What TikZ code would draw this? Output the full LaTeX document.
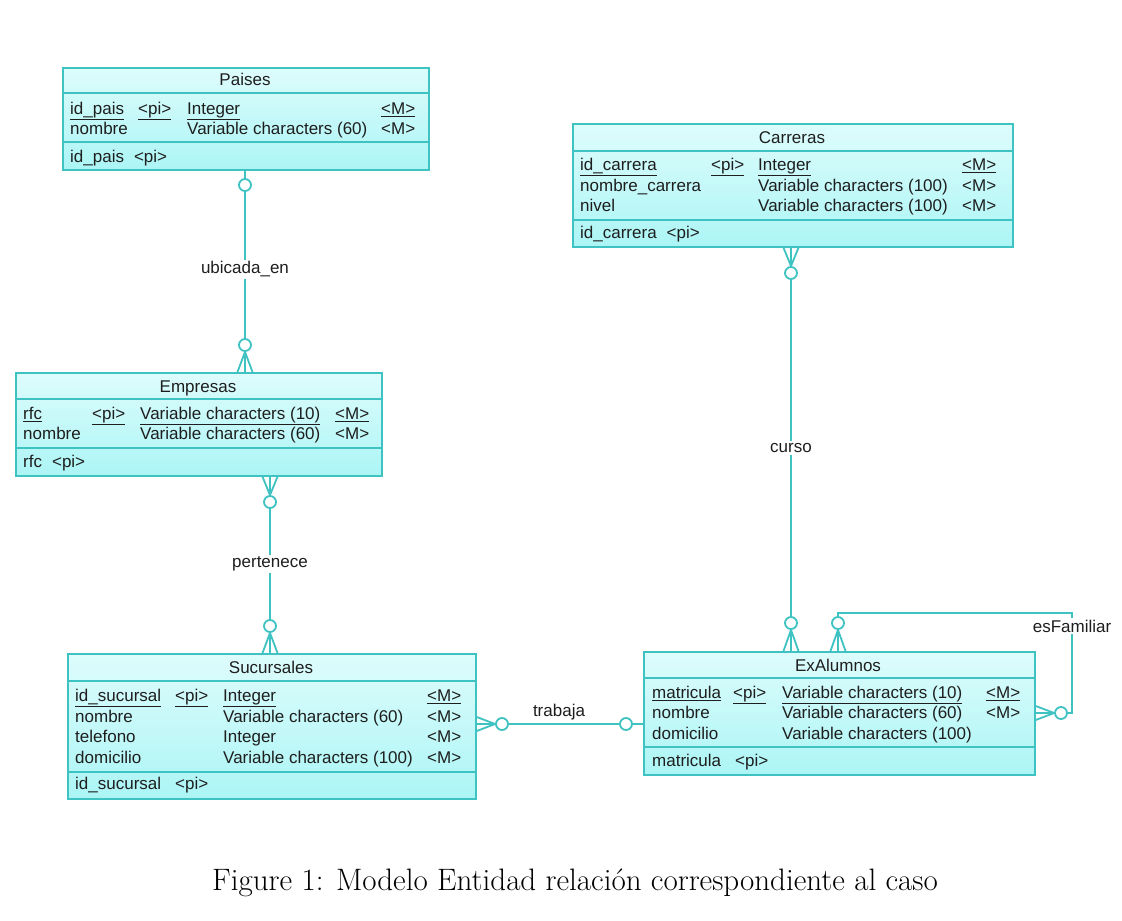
\documentclass[tikz,border=0pt]{standalone}
\usepackage{fontspec}
\usetikzlibrary{calc}
\newfontfamily\arialf{Liberation Sans}
\definecolor{ln}{RGB}{62,194,194}
\definecolor{tx}{RGB}{30,30,30}
\definecolor{ftop}{RGB}{222,252,252}
\definecolor{fbot}{RGB}{172,245,245}
\tikzset{
  x=1pt, y=-1pt,
  tbl/.style={draw=ln, line width=1.7pt, top color=ftop, bottom color=fbot, anchor=north west, inner sep=0pt},
  sepl/.style={draw=ln, line width=1.4pt},
  tt/.style={font=\arialf\fontsize{17}{20}\selectfont, text=tx, inner sep=0pt, anchor=west, text height=13.5pt, text depth=0.5pt},
  ttl/.style={tt, anchor=center},
  conn/.style={draw=ln, line width=1.8pt},
  ring/.style={circle, draw=ln, line width=1.8pt, fill=white, minimum size=12pt, inner sep=0pt},
  lbl/.style={font=\arialf\fontsize{17}{20}\selectfont, text=tx, fill=white, inner sep=2pt},
}
\newcommand\tbox[7]{%
  \node[tbl, minimum width=#4pt, minimum height=#5pt] (#1) at (#2,#3) {};
  \draw[sepl] ($(#1.north west)+(0,#6)$) -- ($(#1.north east)+(0,#6)$);
  \draw[sepl] ($(#1.north west)+(0,#7)$) -- ($(#1.north east)+(0,#7)$);}
\newcommand\tc[4]{\node[tt] (#1) at (#2,#3) {#4};}
\newcommand\crowV[3]{\draw[conn] (#1.#2) -- ($(#1 |- #3)+(-7.5,0)$) (#1.#2) -- (#1 |- #3) (#1.#2) -- ($(#1 |- #3)+(7.5,0)$);}
\newcommand\crowH[3]{\draw[conn] (#1.#2) -- ($(#1 -| #3)+(0,-7)$) (#1.#2) -- (#1 -| #3) (#1.#2) -- ($(#1 -| #3)+(0,7)$);}
\begin{document}
\begin{tikzpicture}
\useasboundingbox (0,0) rectangle (1122,921);
\fill[white] (0,0) rectangle (1122,921);

% ---------- Paises
\tbox{pai}{62}{67}{366}{102}{26}{75}
\node[ttl] (paiT) at (245,79) {Paises};
\tc{pa1}{70}{108}{\underline{id\_pais}}
\tc{pa2}{138}{108}{\underline{<pi>}}
\tc{pa3}{187}{108}{\underline{Integer}}
\tc{pa4}{381}{108}{\underline{<M>}}
\tc{pa5}{70}{128}{nombre}
\tc{pa6}{187}{128}{Variable characters (60)}
\tc{pa7}{381}{128}{<M>}
\tc{pa8}{70}{156}{id\_pais\hspace{10pt}<pi>}

% ---------- Carreras
\tbox{car}{572}{123}{440}{123}{28}{97}
\node[ttl] (carT) at (792,137) {Carreras};
\tc{ca1}{580}{164}{\underline{id\_carrera}}
\tc{ca2}{711}{164}{\underline{<pi>}}
\tc{ca3}{758}{164}{\underline{Integer}}
\tc{ca4}{962}{164}{\underline{<M>}}
\tc{ca5}{580}{185}{nombre\_carrera}
\tc{ca6}{758}{185}{Variable characters (100)}
\tc{ca7}{962}{185}{<M>}
\tc{ca8}{580}{205}{nivel}
\tc{ca9}{758}{205}{Variable characters (100)}
\tc{ca10}{962}{205}{<M>}
\tc{ca11}{580}{232}{id\_carrera\hspace{10pt}<pi>}

% ---------- Empresas
\tbox{emp}{15}{372}{366}{103}{27}{76}
\node[ttl] (empT) at (198,386) {Empresas};
\tc{em1}{23}{413}{\underline{rfc}}
\tc{em2}{92}{413}{\underline{<pi>}}
\tc{em3}{140}{413}{\underline{Variable characters (10)}}
\tc{em4}{335}{413}{\underline{<M>}}
\tc{em5}{23}{433}{nombre}
\tc{em6}{140}{433}{Variable characters (60)}
\tc{em7}{335}{433}{<M>}
\tc{em8}{23}{461}{rfc\hspace{10pt}<pi>}

% ---------- Sucursales
\tbox{suc}{67}{653}{408}{145}{28}{119}
\node[ttl] (sucT) at (271,667) {Sucursales};
\tc{su1}{75}{695}{\underline{id\_sucursal}}
\tc{su2}{175}{695}{\underline{<pi>}}
\tc{su3}{223}{695}{\underline{Integer}}
\tc{su4}{427}{695}{\underline{<M>}}
\tc{su5}{75}{716}{nombre}
\tc{su6}{223}{716}{Variable characters (60)}
\tc{su7}{427}{716}{<M>}
\tc{su8}{75}{736}{telefono}
\tc{su9}{223}{736}{Integer}
\tc{su10}{427}{736}{<M>}
\tc{su11}{75}{757}{domicilio}
\tc{su12}{223}{757}{Variable characters (100)}
\tc{su13}{427}{757}{<M>}
\tc{su14}{75}{783}{id\_sucursal\hspace{14pt}<pi>}

% ---------- ExAlumnos
\tbox{exa}{643}{651}{391}{123}{27}{96}
\node[ttl] (exaT) at (838,665) {ExAlumnos};
\tc{ex1}{652}{692}{\underline{matricula}}
\tc{ex2}{733}{692}{\underline{<pi>}}
\tc{ex3}{782}{692}{\underline{Variable characters (10)}}
\tc{ex4}{986}{692}{\underline{<M>}}
\tc{ex5}{652}{712}{nombre}
\tc{ex6}{782}{712}{Variable characters (60)}
\tc{ex7}{986}{712}{<M>}
\tc{ex8}{652}{733}{domicilio}
\tc{ex9}{782}{733}{Variable characters (100)}
\tc{ex10}{652}{760}{matricula\hspace{14pt}<pi>}

% ---------- ubicada_en
\node[ring] (rA) at (245,185) {};
\node[ring] (rB) at (245,345) {};
\draw[conn] (pai.south -| rA) -- (rA.north);
\crowV{rB}{south}{emp.north}
\draw[conn] (rA.south) -- (rB.north) node[lbl, pos=0.53] (lU) {ubicada\_en};

% ---------- pertenece
\node[ring] (rP1) at (270,502) {};
\node[ring] (rP2) at (270,626) {};
\crowV{rP1}{north}{emp.south}
\crowV{rP2}{south}{suc.north}
\draw[conn] (rP1.south) -- (rP2.north) node[lbl, midway] (lP) {pertenece};

% ---------- curso
\node[ring] (rC1) at (791,273) {};
\node[ring] (rC2) at (791,623) {};
\crowV{rC1}{north}{car.south}
\crowV{rC2}{south}{exa.north}
\draw[conn] (rC1.south) -- (rC2.north) node[lbl, midway] (lC) {curso};

% ---------- trabaja
\node[ring] (rT1) at (502,724) {};
\node[ring] (rT2) at (626,724) {};
\crowH{rT1}{west}{suc.east}
\draw[conn] (rT2.east) -- (rT2 -| exa.west);
\draw[conn] (rT1.east) -- (rT2.west);
\node[lbl, fill=none] (lT) at (559,712) {trabaja};

% ---------- esFamiliar
\node[ring] (rF1) at (838,623) {};
\node[ring] (rF2) at (1061,713) {};
\crowV{rF1}{south}{exa.north}
\crowH{rF2}{west}{exa.east}
\coordinate (fc) at (1072,613);
\draw[conn] (rF1.north) |- (fc) |- (rF2.east);
\node[lbl] (lF) at (1072,626) {esFamiliar};

% ---------- caption
\node[font=\fontsize{31}{37}\selectfont, anchor=base, inner sep=0pt] (cap) at (575,890) {Figure 1: Modelo Entidad relación correspondiente al caso};
\end{tikzpicture}
\end{document}
